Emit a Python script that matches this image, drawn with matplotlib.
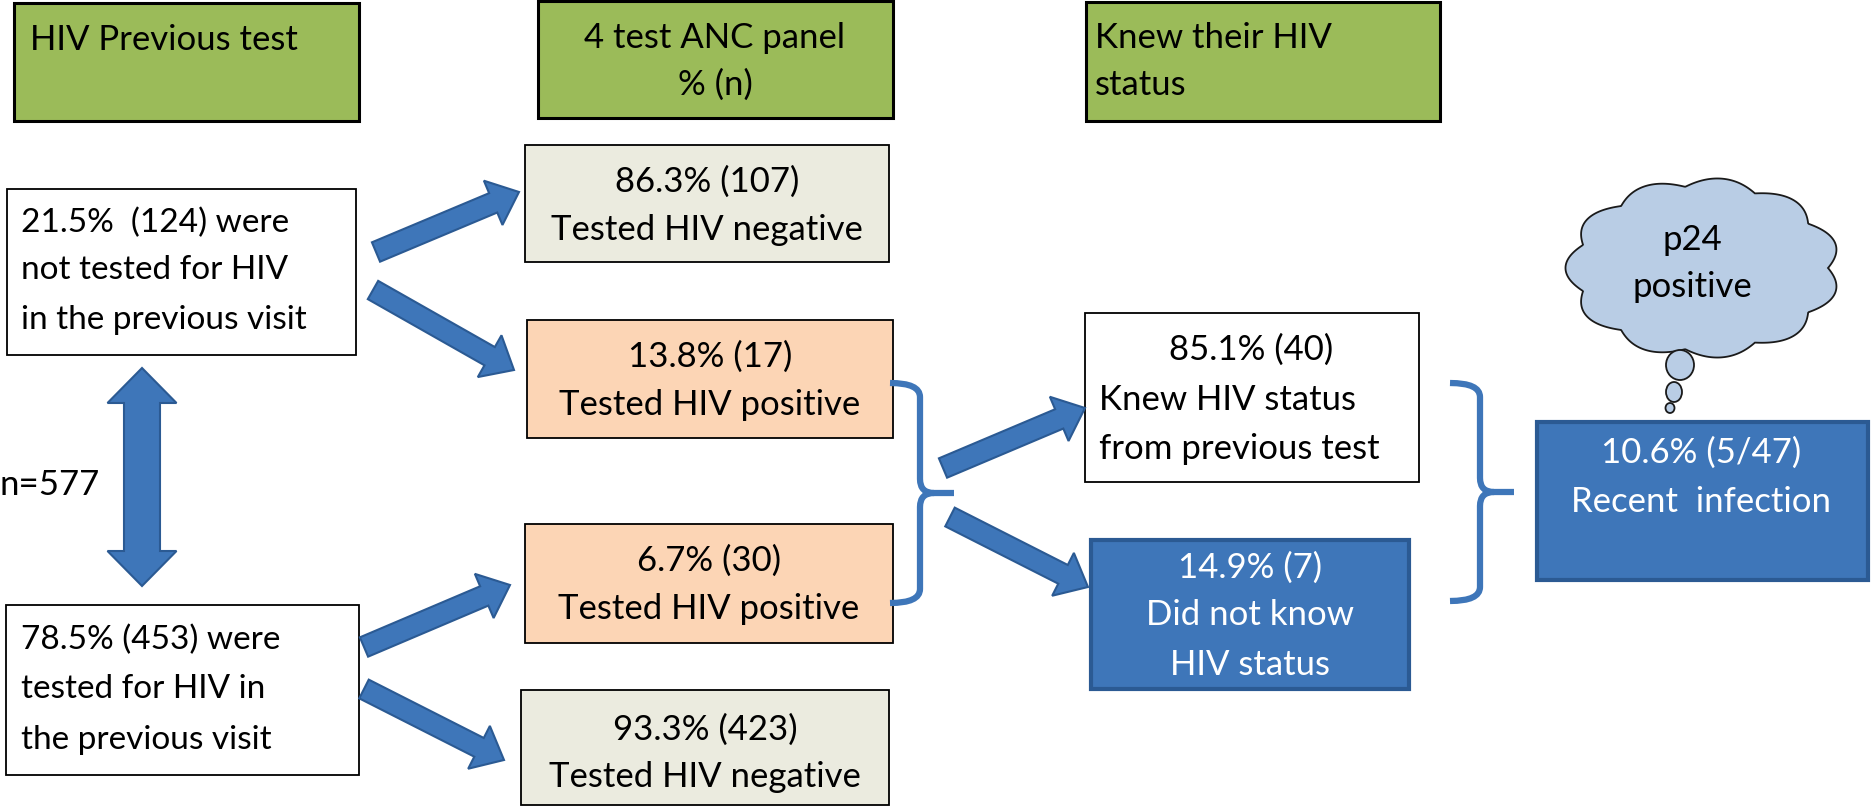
import numpy as np
import matplotlib
matplotlib.use('Agg')
import matplotlib.pyplot as plt
from matplotlib.patches import Rectangle, FancyArrow, Polygon, Ellipse, PathPatch
from matplotlib.path import Path

plt.rcParams['font.family'] = ['Lato', 'DejaVu Sans']

# ------ data (texts of the flow diagram) ------
headers = [['HIV Previous test'], ['4 test ANC panel', '% (n)'], ['Knew their HIV', 'status']]
n_total = 'n=577'
prev_pct = ['21.5%', '78.5%']
prev_n = [124, 453]
prev_txt = [['were', 'not tested for HIV', 'in the previous visit'],
            ['were', 'tested for HIV in', 'the previous visit']]
anc_pct = ['86.3%', '13.8%', '6.7%', '93.3%']
anc_n = [107, 17, 30, 423]
anc_txt = ['Tested HIV negative', 'Tested HIV positive', 'Tested HIV positive', 'Tested HIV negative']
knew_pct = ['85.1%', '14.9%']
knew_n = [40, 7]
knew_txt = [['Knew HIV status', 'from previous test'], ['Did not know', 'HIV status']]
recent = ['10.6% (5/47)', 'Recent  infection']
cloud_txt = ['p24', 'positive']

# ------ colours ------
green = '#9BBB59'
beige = '#EBEBDF'
peach = '#FCD5B5'
blue = '#3E76B9'
blue_edge = '#2B5A93'
cloud_col = '#B9CDE5'
fs = 25

fig = plt.figure(figsize=(18.71, 8.08), dpi=100)
ax = fig.add_axes([0, 0, 1, 1])
ax.set_xlim(0, 1871)
ax.set_ylim(808, 0)
ax.axis('off')


def box(x0, y0, x1, y1, fc, ec='black', lw=1.3):
    ax.add_patch(Rectangle((x0, y0), x1 - x0, y1 - y0, facecolor=fc, edgecolor=ec, linewidth=lw, zorder=2))


def lines(texts, x, ys, ha='center', color='black', size=fs):
    for t, y in zip(texts, ys):
        ax.text(x, y, t, ha=ha, va='center', fontsize=size, color=color, zorder=5)


def arrow(x0, y0, x1, y1, w=21, hw=48, hl=28):
    ax.add_patch(FancyArrow(x0, y0, x1 - x0, y1 - y0, width=w, head_width=hw, head_length=hl,
                            length_includes_head=True, facecolor=blue, edgecolor=blue_edge,
                            linewidth=1.5, zorder=3))


def brace(x0, xm, xt, y0, y1, r=14):
    ym = (y0 + y1) / 2
    verts = [(x0, y0), (xm, y0), (xm, y0 + r), (xm, ym - r), (xm, ym), (xm + r, ym), (xt, ym),
             (xm + r, ym), (xm, ym), (xm, ym + r), (xm, y1 - r), (xm, y1), (x0, y1)]
    codes = [Path.MOVETO, Path.CURVE3, Path.CURVE3, Path.LINETO, Path.CURVE3, Path.CURVE3, Path.LINETO,
             Path.MOVETO, Path.CURVE3, Path.CURVE3, Path.LINETO, Path.CURVE3, Path.CURVE3]
    ax.add_patch(PathPatch(Path(verts, codes), facecolor='none', edgecolor=blue, linewidth=4.5,
                           capstyle='butt', joinstyle='round', zorder=3))


# headers
box(14, 3, 359, 121, green, lw=2.2)
lines(headers[0], 30, [40], ha='left')
box(538, 1, 893, 118, green, lw=2.2)
lines(headers[1], 715, [38, 85])
box(1086, 2, 1440, 121, green, lw=2.2)
lines(headers[2], 1095, [38, 85], ha='left')

# previous test boxes
box(7, 189, 356, 355, 'white')
lines(['%s  (%d) %s' % (prev_pct[0], prev_n[0], prev_txt[0][0])] + prev_txt[0][1:], 21, [223, 270, 320],
      ha='left', size=24)
box(6, 605, 359, 775, 'white')
lines(['%s (%d) %s' % (prev_pct[1], prev_n[1], prev_txt[1][0])] + prev_txt[1][1:], 21, [640, 689, 740],
      ha='left', size=24)
ax.text(0, 485, n_total, ha='left', va='center', fontsize=fs, zorder=5)

# double arrow between them
xc, ya, yb, sw, hw, hl = 142, 368, 586, 36, 69, 35
dbl = [(xc, ya), (xc + hw / 2, ya + hl), (xc + sw / 2, ya + hl), (xc + sw / 2, yb - hl), (xc + hw / 2, yb - hl),
       (xc, yb), (xc - hw / 2, yb - hl), (xc - sw / 2, yb - hl), (xc - sw / 2, ya + hl), (xc - hw / 2, ya + hl)]
ax.add_patch(Polygon(dbl, closed=True, facecolor=blue, edgecolor=blue_edge, linewidth=1.5, zorder=3))

# ANC panel boxes
anc_box = [(525, 145, 889, 263), (527, 320, 893, 439), (525, 524, 893, 644), (521, 690, 889, 806)]
anc_col = [beige, peach, peach, beige]
anc_ys = [(182, 230), (357, 405), (561, 609), (730, 777)]
for (x0, y0, x1, y1), c, txt, p, n, ys in zip(anc_box, anc_col, anc_txt, anc_pct, anc_n, anc_ys):
    box(x0, y0, x1, y1 - 1, c)
    lines(['%s (%d)' % (p, n), txt], (x0 + x1) / 2, ys)

arrow(376, 252, 519, 192)
arrow(373, 290, 514, 370)
arrow(364, 647, 510, 585)
arrow(364, 689, 504, 760)

# brace + knew status
brace(890, 920, 954, 383, 603)
arrow(943, 468, 1085, 408)
arrow(950, 517, 1088, 587)

box(1085, 313, 1419, 482, 'white')
lines(['%s (%d)' % (knew_pct[0], knew_n[0])], 1251, [350])
lines(knew_txt[0], 1099, [400, 449], ha='left')
box(1091, 540, 1409, 689, blue, ec=blue_edge, lw=3)
lines(['%s (%d)' % (knew_pct[1], knew_n[1])] + knew_txt[1], 1250, [568, 615, 665], color='white')

brace(1450, 1480, 1514, 383, 601)

# recent infection
box(1537, 422, 1868, 580, blue, ec=blue_edge, lw=3)
lines(recent, 1701, [453, 502], color='white')

# cloud
th = np.linspace(0, 2 * np.pi, 721)
rr = 1 + 0.1 * np.abs(np.sin(5.5 * th))
cx, cy, rx, ry = 1703, 268, 125, 82
ax.add_patch(Polygon(np.c_[cx + rx * rr * np.cos(th), cy + ry * rr * np.sin(th)], closed=True,
                     facecolor=cloud_col, edgecolor='#1a1a1a', linewidth=1.3, zorder=3))
for (bx, by, bw, bh) in [(1680, 365, 28, 30), (1674, 392, 16, 20), (1670, 408, 9, 10)]:
    ax.add_patch(Ellipse((bx, by), bw, bh, facecolor=cloud_col, edgecolor='#1a1a1a', linewidth=1.3, zorder=3))
lines(cloud_txt, 1692, [240, 287])

fig.savefig('out.png', dpi=100)
